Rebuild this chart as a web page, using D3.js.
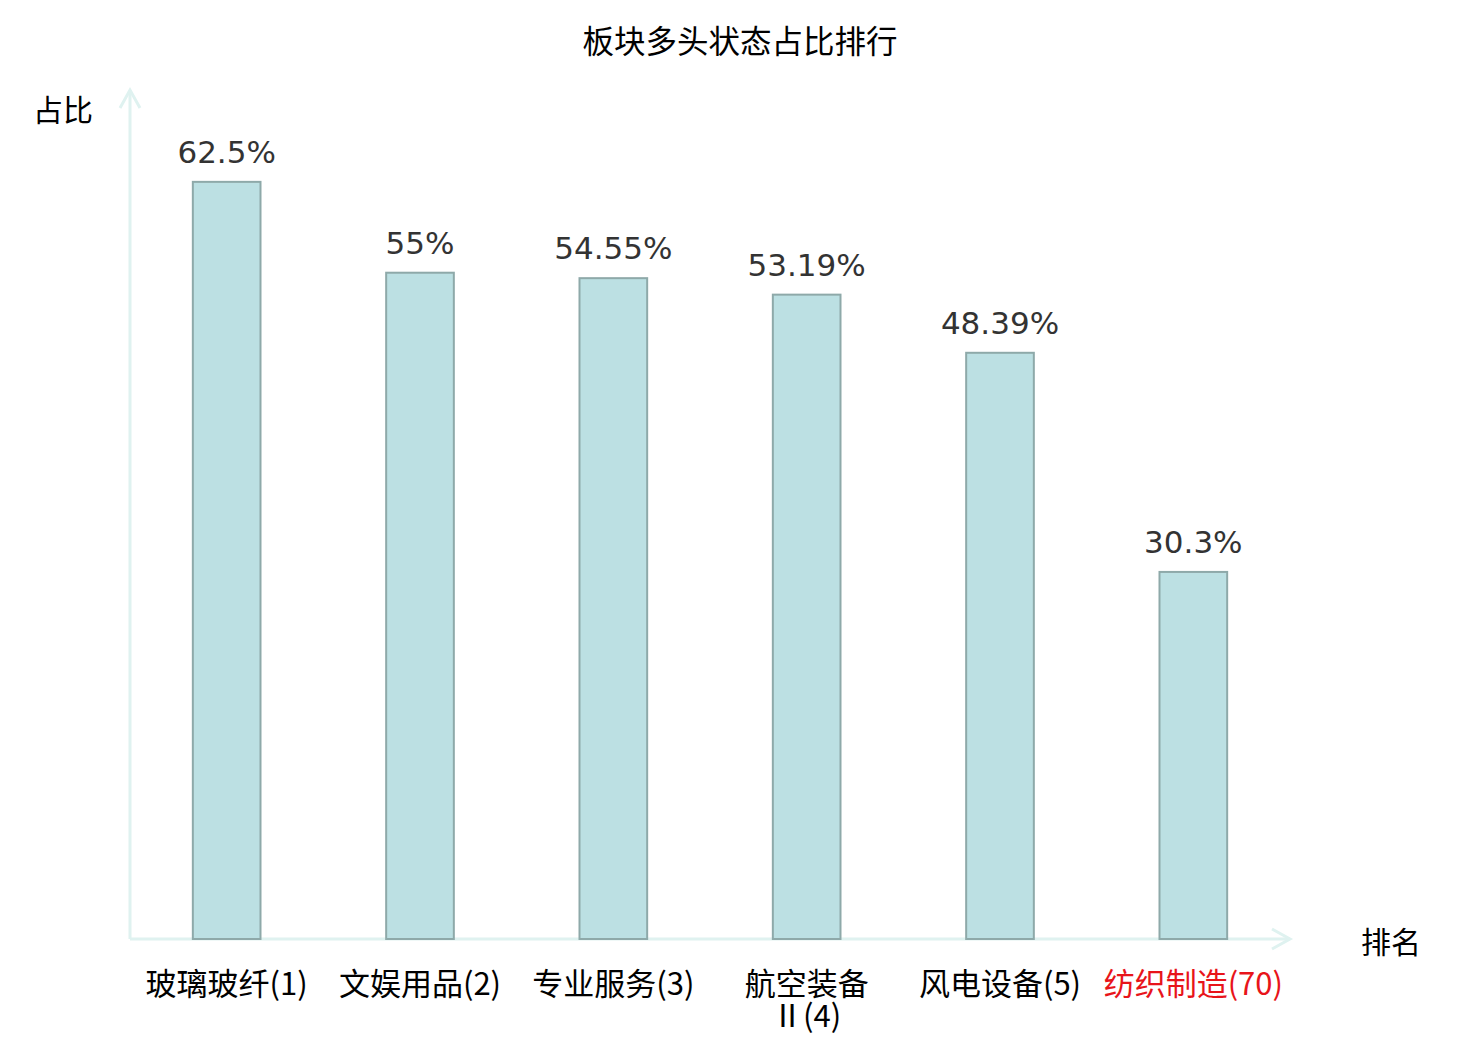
<!DOCTYPE html>
<html>
<head>
<meta charset="utf-8">
<script src="https://cdn.jsdelivr.net/npm/d3@7"></script>
<style>
  body { margin: 0; background: #fff; }
  svg { display: block; }
</style>
</head>
<body>
<svg id="chart" width="1480" height="1040"></svg>
<script>
// data
const categories = ["玻璃玻纤(1)", "文娱用品(2)", "专业服务(3)", "航空装备Ⅱ(4)", "风电设备(5)", "纺织制造(70)"];
const categoryLines = [["玻璃玻纤(1)"], ["文娱用品(2)"], ["专业服务(3)"], ["航空装备", "Ⅱ(4)"], ["风电设备(5)"], ["纺织制造(70)"]];
const values = [62.5, 55, 54.55, 53.19, 48.39, 30.3];
const valueLabels = ["62.5%", "55%", "54.55%", "53.19%", "48.39%", "30.3%"];
const highlighted = ["纺织制造(70)"];

const cjk = "'Noto Sans CJK SC', 'Noto Sans', sans-serif";
const svg = d3.select("#chart");

const x0 = 130, x1 = 1290, yBase = 939, yTop = 91;

const x = d3.scaleBand().domain(categories).range([x0, x1]).paddingInner(0.65).paddingOuter(0.325);
const y = d3.scaleLinear().domain([0, 70]).range([yBase, yTop]);

// title
svg.append("text")
  .attr("x", 740).attr("y", 53)
  .attr("text-anchor", "middle")
  .style("font-family", cjk).style("font-size", "31.5px").style("fill", "#000")
  .text("板块多头状态占比排行");

// axes with arrows
const axisColor = "#dff2f0";
svg.append("line")
  .attr("x1", x0).attr("y1", yBase).attr("x2", x0).attr("y2", 90)
  .attr("stroke", axisColor).attr("stroke-width", 3);
svg.append("path")
  .attr("d", `M${x0 - 10},${108} L${x0},${90} L${x0 + 10},${108}`)
  .attr("fill", "none").attr("stroke", axisColor).attr("stroke-width", 3);
svg.append("line")
  .attr("x1", x0).attr("y1", yBase).attr("x2", 1290).attr("y2", yBase)
  .attr("stroke", axisColor).attr("stroke-width", 3);
svg.append("path")
  .attr("d", `M${1272},${yBase - 10} L${1290},${yBase} L${1272},${yBase + 10}`)
  .attr("fill", "none").attr("stroke", axisColor).attr("stroke-width", 3);

// axis names
svg.append("text")
  .attr("x", 33).attr("y", 121)
  .style("font-family", cjk).style("font-size", "30px").style("fill", "#000")
  .text("占比");
svg.append("text")
  .attr("x", 1361).attr("y", 953)
  .style("font-family", cjk).style("font-size", "30px").style("fill", "#000")
  .text("排名");

// bars
svg.selectAll("rect.bar")
  .data(values)
  .join("rect")
  .attr("class", "bar")
  .attr("x", (d, i) => x(categories[i]))
  .attr("y", d => y(d))
  .attr("width", x.bandwidth())
  .attr("height", d => y(0) - y(d))
  .attr("fill", "#bce0e3")
  .attr("stroke", "#8ea9a9")
  .attr("stroke-width", 2);

// value labels
svg.selectAll("text.val")
  .data(values)
  .join("text")
  .attr("class", "val")
  .attr("x", (d, i) => x(categories[i]) + x.bandwidth() / 2)
  .attr("y", d => y(d) - 19)
  .attr("text-anchor", "middle")
  .style("font-family", "'DejaVu Sans', sans-serif")
  .style("font-size", "31px")
  .style("fill", "#333")
  .text((d, i) => valueLabels[i]);

// category labels, one text per line
categories.forEach((c, i) => {
  const cx = x(c) + x.bandwidth() / 2;
  categoryLines[i].forEach((l, j) => {
    svg.append("text")
      .attr("x", cx).attr("y", 995 + j * 32)
      .attr("text-anchor", "middle")
      .style("font-family", cjk).style("font-size", "31px")
      .style("fill", highlighted.includes(c) ? "#e8141a" : "#000")
      .text(l);
  });
});
</script>
</body>
</html>
